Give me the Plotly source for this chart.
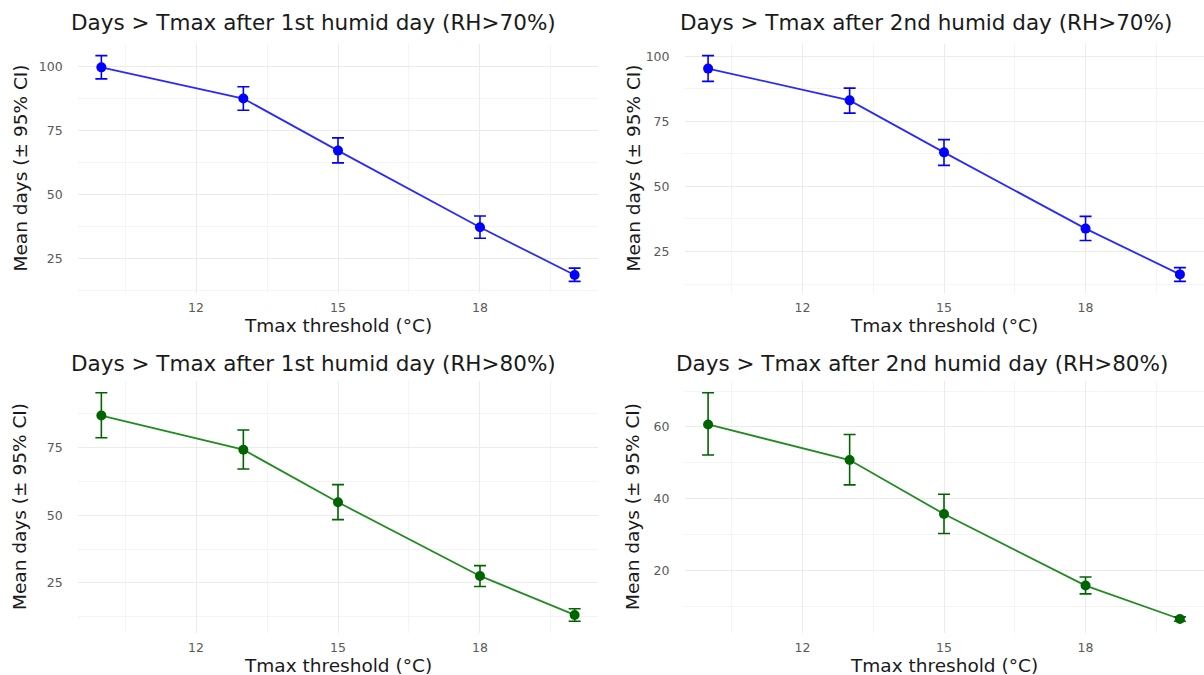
import plotly.graph_objects as go

x_thr = [10, 13, 15, 18, 20]

tl_mean = [99.8, 87.6, 67.2, 37.2, 18.5]
tl_lo = [95.3, 83.0, 62.4, 32.9, 16.0]
tl_hi = [104.4, 92.2, 72.2, 41.6, 21.2]

tr_mean = [95.3, 83.1, 63.1, 33.8, 16.2]
tr_lo = [90.4, 78.2, 58.1, 29.2, 13.5]
tr_hi = [100.3, 87.8, 68.0, 38.5, 18.8]

bl_mean = [86.8, 74.2, 54.8, 27.6, 13.2]
bl_lo = [78.6, 67.1, 48.4, 23.7, 10.9]
bl_hi = [95.2, 81.5, 61.3, 31.4, 15.5]

br_mean = [60.7, 50.8, 35.8, 15.9, 6.6]
br_lo = [52.2, 43.9, 30.4, 13.6, 6.0]
br_hi = [69.5, 57.9, 41.3, 18.3, 7.2]

titles = [
    "Days > Tmax after 1st humid day (RH>70%)",
    "Days > Tmax after 2nd humid day (RH>70%)",
    "Days > Tmax after 1st humid day (RH>80%)",
    "Days > Tmax after 2nd humid day (RH>80%)",
]
x_ticks = [12, 15, 18]
x_minor = [10.5, 13.5, 16.5, 19.5]
y_ticks = [[25, 50, 75, 100], [25, 50, 75, 100], [25, 50, 75], [20, 40, 60]]
y_minor = [[12.5, 37.5, 62.5, 87.5], [12.5, 37.5, 62.5, 87.5], [12.5, 37.5, 62.5, 87.5], [10, 30, 50, 70]]

x_title = "Tmax threshold (°C)"
y_title = "Mean days (± 95% CI)"

W, H = 1204, 675
FONT = "DejaVu Sans"

panels = [
    (tl_mean, tl_lo, tl_hi, "#0000ff", "#2a2aff"),
    (tr_mean, tr_lo, tr_hi, "#0000ff", "#2a2aff"),
    (bl_mean, bl_lo, bl_hi, "#006400", "#228b22"),
    (br_mean, br_lo, br_hi, "#006400", "#228b22"),
]

# plot-area pixel boxes (left, right, top, bottom)
boxes = [
    (77.7, 598.3, 44.3, 292.7),
    (684.5, 1203.5, 44.3, 292.7),
    (77.7, 598.3, 381.4, 632.6),
    (684.5, 1203.5, 381.4, 632.6),
]
title_y = [23, 23, 363, 363]
title_x = [69, 678, 69, 674]
ytitle_x = [20, 633, 20, 633]

fig = go.Figure()
annotations = []
grid_major = "#ebebeb"
grid_minor = "#f4f4f4"

for i, ((m, lo, hi, pc, lc), (l, r, t, b)) in enumerate(zip(panels, boxes)):
    xa = "x" if i == 0 else f"x{i+1}"
    ya = "y" if i == 0 else f"y{i+1}"
    plus = [h - v for h, v in zip(hi, m)]
    minus = [v - w for v, w in zip(m, lo)]
    fig.add_trace(go.Scatter(
        x=x_thr, y=m, mode="lines", line=dict(color=lc, width=1.8),
        xaxis=xa, yaxis=ya, showlegend=False, hoverinfo="skip"))
    fig.add_trace(go.Scatter(
        x=x_thr, y=m, mode="markers",
        marker=dict(color=pc, size=10),
        error_y=dict(type="data", symmetric=False, array=plus, arrayminus=minus,
                     color=pc, thickness=1.6, width=6),
        xaxis=xa, yaxis=ya, showlegend=False))
    ymin, ymax = min(lo), max(hi)
    pad = (ymax - ymin) * 0.05
    xmin, xmax = min(x_thr), max(x_thr)
    xpad = (xmax - xmin) * 0.05
    key = "" if i == 0 else str(i + 1)
    fig.update_layout(**{
        f"xaxis{key}": dict(
            domain=[l / W, r / W], anchor=ya, range=[xmin - xpad, xmax + xpad],
            tickvals=x_ticks, showgrid=True, gridcolor=grid_major, gridwidth=1.1,
            minor=dict(tickvals=x_minor, showgrid=True, gridcolor=grid_minor, gridwidth=0.6),
            zeroline=False, showline=False, ticks="",
            tickfont=dict(family=FONT, size=12.5, color="#595959"),
            ticklabelstandoff=6),
        f"yaxis{key}": dict(
            domain=[1 - b / H, 1 - t / H], anchor=xa, range=[ymin - pad, ymax + pad],
            tickvals=y_ticks[i], showgrid=True, gridcolor=grid_major, gridwidth=1.1,
            minor=dict(tickvals=y_minor[i], showgrid=True, gridcolor=grid_minor, gridwidth=0.6),
            zeroline=False, showline=False, ticks="",
            tickfont=dict(family=FONT, size=12.5, color="#595959"),
            ticklabelstandoff=14),
    })
    annotations.append(dict(
        text=titles[i], x=title_x[i] / W, y=1 - title_y[i] / H, xref="paper", yref="paper",
        xanchor="left", yanchor="middle", showarrow=False,
        font=dict(family=FONT, size=21.5, color="#1a1a1a")))
    annotations.append(dict(
        text=x_title, x=(l + r) / 2 / W, y=1 - (b + 33) / H, xref="paper", yref="paper",
        xanchor="center", yanchor="middle", showarrow=False,
        font=dict(family=FONT, size=18.5, color="#1a1a1a")))
    annotations.append(dict(
        text=y_title, x=ytitle_x[i] / W, y=1 - (t + b) / 2 / H, xref="paper", yref="paper",
        xanchor="center", yanchor="middle", showarrow=False, textangle=-90,
        font=dict(family=FONT, size=18.5, color="#1a1a1a")))

fig.update_layout(
    width=W, height=H, margin=dict(l=0, r=0, t=0, b=0),
    paper_bgcolor="white", plot_bgcolor="white",
    annotations=annotations, showlegend=False,
)

fig.write_html("out.html")
